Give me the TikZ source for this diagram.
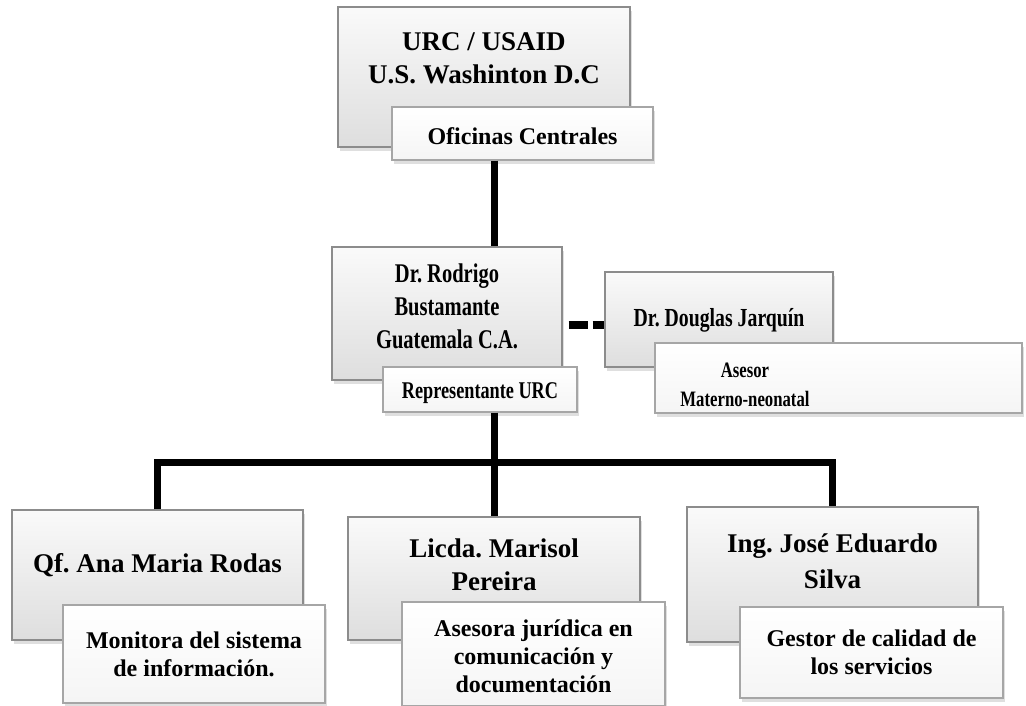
\documentclass[tikz,border=0pt]{standalone}
\usepackage{fontspec}
\setmainfont{Liberation Serif}
\newfontfamily\narrowfont{Liberation Serif}[FakeStretch=0.76]
\usetikzlibrary{shadows}
\frenchspacing

\tikzstyle{mainbox} = [rectangle, inner sep=0pt, draw=gray!90, line width=1.2pt, top color=gray!4, bottom color=gray!26, drop shadow={shadow xshift=2pt, shadow yshift=-4pt, opacity=0.25}]
\tikzstyle{subbox} = [rectangle, inner sep=0pt, draw=gray!70, line width=1.2pt, top color=white, bottom color=gray!8, drop shadow={shadow xshift=2pt, shadow yshift=-4pt, opacity=0.25}]
\tikzstyle{bigtext} = [align=center, inner sep=0pt, font=\bfseries\fontsize{27}{33}\selectfont]
\tikzstyle{smalltext} = [align=center, inner sep=0pt, font=\bfseries\fontsize{24}{28}\selectfont]
\tikzstyle{narrowtext} = [align=center, inner sep=0pt]
\tikzstyle{link} = [line width=7pt]

\begin{document}
\begin{tikzpicture}[x=1pt, y=-1pt]
        \path[use as bounding box, fill=white] (0,0) rectangle (1026,706);

        % Nodes
        \node (urc) [mainbox, minimum width=292pt, minimum height=140pt] at (484,77) {};
        \node (urcText) [bigtext] at (484,58) {URC / USAID\\U.S. Washinton D.C};
        \node (ofi) [subbox, minimum width=261pt, minimum height=53pt] at (522.5,133.5) {};
        \node (ofiText) [smalltext] at (522.5,136) {Oficinas Centrales};

        \node (rodrigo) [mainbox, minimum width=230pt, minimum height=133pt] at (447,313.5) {};
        \node (rodrigoText) [narrowtext, font=\narrowfont\bfseries\fontsize{27}{33}\selectfont] at (447,306) {Dr. Rodrigo\\Bustamante\\Guatemala C.A.};
        \node (rep) [subbox, minimum width=194pt, minimum height=45pt] at (480,389.5) {};
        \node (repText) [narrowtext, font=\narrowfont\bfseries\fontsize{24}{28}\selectfont] at (480,393) {Representante URC};

        \node (douglas) [mainbox, minimum width=228pt, minimum height=95pt] at (719,319.5) {};
        \node (douglasText) [narrowtext, font=\narrowfont\bfseries\fontsize{26}{32}\selectfont] at (719,320) {Dr. Douglas Jarquín};
        \node (asesor) [subbox, minimum width=367pt, minimum height=70pt] at (838.5,378) {};
        \node (asesorText) [narrowtext, font=\narrowfont\bfseries\fontsize{22}{29}\selectfont] at (745,385) {Asesor\\Materno-neonatal};

        \node (qf) [mainbox, minimum width=291pt, minimum height=130pt] at (157.5,575) {};
        \node (qfText) [bigtext] at (157.5,565) {Qf. Ana Maria Rodas};
        \node (monitora) [subbox, minimum width=262pt, minimum height=98pt] at (194,654) {};
        \node (monitoraText) [smalltext] at (194,654.5) {Monitora del sistema\\de información.};

        \node (licda) [mainbox, minimum width=292pt, minimum height=123pt] at (494,578.5) {};
        \node (licdaText) [bigtext] at (494,565) {Licda. Marisol\\Pereira};
        \node (asesora) [subbox, minimum width=263pt, minimum height=104pt] at (533.5,654) {};
        \node (asesoraText) [smalltext] at (533.5,656) {Asesora jurídica en\\comunicación y\\documentación};

        \node (ing) [mainbox, minimum width=291pt, minimum height=135pt] at (832.5,574.5) {};
        \node (ingText) [bigtext, font=\bfseries\fontsize{27}{36}\selectfont] at (832.5,561) {Ing. José Eduardo\\Silva};
        \node (gestor) [subbox, minimum width=263pt, minimum height=91pt] at (871.5,652.5) {};
        \node (gestorText) [smalltext] at (871.5,652) {Gestor de calidad de\\los servicios};

        \coordinate (spine) at (494,0);
        \coordinate (bus) at (0,462);
        \coordinate (dashY) at (0,325);

        % Arrows
        \draw [link] (ofi.south -| spine) -- (rodrigo.north -| spine);
        \draw [line width=8pt, dash pattern=on 19pt off 5pt on 19pt off 6pt, dash phase=43pt] (rodrigo.east |- dashY) -- (douglas.west |- dashY);
        \draw [link] (rep.south -| spine) -- (licda.north -| spine);
        \draw [link] (qf.north) |- (spine |- bus) -| (ing.north);
    \end{tikzpicture}
\end{document}
